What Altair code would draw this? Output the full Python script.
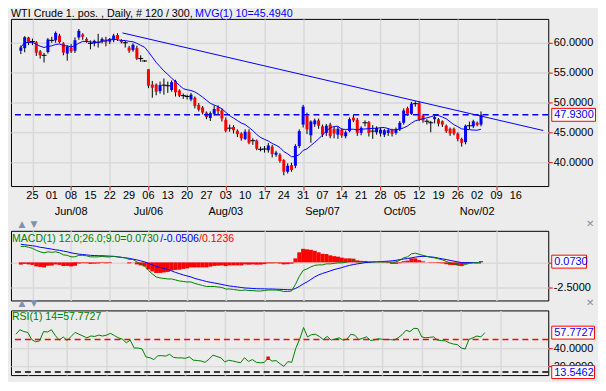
import altair as alt
import pandas as pd

# ---------------- data ----------------
opens = [58.67, 59.1, 60.88, 60.2, 60.1, 58.56, 57.9, 58.45, 60.4, 60.43,
         61.2, 59.9, 58.2, 59.2, 58.67, 60.9, 61.4, 60.65, 59.9, 59.9,
         60.1, 60.2, 60.55, 60.2, 60.43, 61.3, 60.43, 60.0, 59.2, 58.8,
         59.1, 57.35, 56.95, 55.57, 53.0, 53.0, 51.9, 52.9, 52.8, 52.1,
         53.6, 52.0, 51.15, 51.0, 50.5, 50.8, 49.6, 49.15, 48.3, 47.4,
         48.1, 49.2, 48.65, 47.1, 45.7, 45.9, 45.25, 44.8, 43.9, 45.1,
         43.6, 43.6, 42.15, 42.2, 42.0, 42.6, 41.25, 41.25, 40.35, 38.4,
         39.5, 39.4, 42.7, 46.3, 47.8, 44.5, 46.35, 47.0, 46.0, 44.9,
         46.3, 45.6, 44.6, 45.45, 44.35, 45.2, 47.45, 47.1, 44.9, 46.6,
         46.7, 45.2, 45.0, 44.8, 44.6, 44.9, 45.35, 44.9, 45.5, 46.6,
         49.05, 48.1, 49.8, 49.9, 47.8, 46.85, 46.6, 47.2, 47.2, 46.85,
         46.1, 45.6, 45.6, 44.8, 43.9, 43.35, 46.1, 46.0, 46.6, 46.3]
closes = [59.22, 60.93, 60.0, 60.2, 58.34, 57.9, 57.9, 60.55, 60.4, 61.65,
          60.1, 58.35, 59.34, 58.55, 60.43, 62.0, 61.0, 60.33, 59.9, 60.33,
          60.1, 60.65, 60.1, 60.65, 61.2, 60.65, 60.1, 60.0, 58.67, 59.67,
          57.35, 57.35, 56.95, 52.8, 52.47, 51.8, 52.9, 52.9, 52.8, 53.4,
          51.7, 51.15, 51.15, 51.0, 51.3, 49.4, 48.8, 48.3, 47.55, 48.2,
          48.9, 48.55, 47.3, 45.25, 45.7, 45.35, 44.7, 44.0, 45.1, 43.25,
          43.6, 42.25, 42.15, 42.2, 42.8, 41.35, 41.6, 40.2, 38.4, 39.4,
          38.7, 42.7, 45.2, 49.3, 45.5, 46.8, 47.0, 46.1, 44.6, 46.1,
          44.35, 44.8, 45.6, 44.45, 45.0, 47.2, 47.0, 44.9, 45.75, 46.6,
          44.9, 45.2, 45.75, 45.45, 45.35, 45.35, 44.75, 45.5, 46.6, 48.65,
          48.1, 49.8, 49.8, 47.2, 47.0, 46.85, 46.6, 47.55, 46.45, 46.3,
          45.2, 44.8, 44.8, 43.9, 43.25, 46.1, 46.1, 46.85, 46.25, 47.93]
highs = [59.55, 61.1, 61.0, 60.7, 60.3, 58.8, 58.3, 60.8, 61.0, 61.9,
         61.5, 60.1, 59.6, 59.8, 60.9, 62.3, 61.6, 60.9, 60.4, 60.5,
         61.5, 60.9, 61.0, 60.8, 61.5, 61.6, 60.6, 60.3, 59.5, 59.9,
         59.5, 57.9, 57.1, 55.6, 53.6, 53.2, 53.5, 54.0, 53.5, 53.7,
         53.8, 52.2, 51.5, 51.3, 51.6, 51.0, 49.9, 49.4, 48.5, 48.5,
         49.5, 49.5, 49.0, 47.5, 46.3, 46.2, 45.5, 45.0, 45.5, 45.5,
         44.0, 43.8, 42.6, 42.7, 43.2, 42.9, 41.9, 41.5, 40.5, 39.8,
         39.9, 43.0, 45.5, 49.6, 48.3, 47.0, 47.3, 47.3, 46.3, 46.4,
         46.6, 45.9, 45.9, 45.7, 45.3, 47.5, 47.9, 47.4, 46.0, 47.0,
         46.9, 46.2, 46.0, 45.8, 45.6, 45.7, 45.6, 45.8, 46.9, 49.0,
         49.3, 50.1, 50.2, 50.15, 48.0, 47.2, 46.9, 47.8, 47.4, 47.0,
         46.3, 45.8, 45.8, 45.0, 44.1, 46.3, 46.8, 47.1, 46.8, 48.5]
lows = [58.1, 58.4, 59.6, 59.6, 57.8, 57.35, 56.7, 58.2, 60.0, 60.0,
        59.9, 57.9, 57.0, 58.3, 58.3, 60.5, 60.5, 60.0, 58.9, 59.4,
        59.2, 59.9, 59.4, 59.8, 60.1, 60.3, 59.9, 59.2, 58.3, 58.5,
        57.1, 56.8, 56.8, 52.4, 50.8, 51.2, 51.5, 51.3, 51.6, 51.8,
        51.0, 50.9, 50.6, 50.5, 50.2, 49.0, 48.5, 48.0, 47.2, 46.9,
        47.8, 48.0, 46.8, 45.0, 45.1, 44.8, 44.2, 43.6, 43.7, 43.0,
        42.9, 42.0, 41.8, 41.6, 41.6, 40.8, 40.9, 39.9, 37.8, 38.1,
        38.4, 39.0, 42.4, 45.8, 44.7, 43.25, 45.9, 45.6, 44.2, 44.4,
        44.0, 44.0, 43.9, 44.1, 44.0, 45.0, 46.7, 44.4, 44.5, 46.0,
        44.3, 43.9, 44.6, 44.3, 44.2, 44.4, 44.3, 44.6, 45.2, 46.3,
        47.8, 47.9, 49.3, 46.9, 46.6, 46.3, 45.0, 46.5, 46.0, 45.9,
        44.9, 44.4, 44.5, 43.5, 42.6, 43.0, 45.5, 45.7, 46.0, 46.0]

macd_line = [1.58, 1.6, 1.5, 1.4, 1.2, 1.05, 0.95, 1.05, 1.0, 1.05,
             0.95, 0.75, 0.7, 0.55, 0.55, 0.7, 0.7, 0.65, 0.55, 0.55,
             0.55, 0.6, 0.55, 0.55, 0.6, 0.55, 0.5, 0.45, 0.3, 0.3,
             0.05, -0.15, -0.35, -0.8, -1.15, -1.45, -1.55, -1.6, -1.65, -1.65,
             -1.75, -1.85, -1.9, -1.95, -1.95, -2.1, -2.2, -2.3, -2.4, -2.4,
             -2.4, -2.45, -2.5, -2.65, -2.65, -2.7, -2.75, -2.8, -2.75, -2.8,
             -2.8, -2.85, -2.85, -2.8, -2.75, -2.75, -2.75, -2.8, -2.9, -2.9,
             -2.85, -2.2, -1.4, -0.8, -0.65, -0.45, -0.3, -0.25, -0.25, -0.15,
             -0.15, -0.1, -0.05, -0.05, 0.0, 0.1, 0.15, 0.05, 0.05, 0.1,
             0.05, 0.05, 0.05, 0.05, 0.05, 0.05, 0.0, 0.05, 0.2, 0.45,
             0.55, 0.85, 0.92, 0.8, 0.7, 0.6, 0.5, 0.45, 0.35, 0.25,
             0.1, -0.05, -0.15, -0.25, -0.35, -0.2, -0.1, -0.05, -0.05, 0.073]
signal_line = [1.8, 1.75, 1.7, 1.65, 1.6, 1.5, 1.45, 1.38, 1.32, 1.25,
               1.2, 1.12, 1.05, 0.95, 0.88, 0.82, 0.78, 0.74, 0.7, 0.68,
               0.66, 0.66, 0.64, 0.62, 0.6, 0.55, 0.5, 0.45, 0.4, 0.32,
               0.25, 0.15, 0.05, -0.1, -0.25, -0.4, -0.5, -0.6, -0.7, -0.85,
               -1.0, -1.12, -1.25, -1.35, -1.45, -1.6, -1.7, -1.8, -1.9, -1.98,
               -2.05, -2.12, -2.2, -2.28, -2.35, -2.4, -2.45, -2.5, -2.55, -2.57,
               -2.6, -2.62, -2.63, -2.63, -2.65, -2.65, -2.67, -2.68, -2.7, -2.72,
               -2.72, -2.6, -2.4, -2.15, -1.95, -1.7, -1.45, -1.25, -1.1, -0.98,
               -0.85, -0.72, -0.62, -0.52, -0.4, -0.3, -0.22, -0.15, -0.1, -0.02,
               0.0, 0.03, 0.05, 0.08, 0.1, 0.12, 0.15, 0.2, 0.28, 0.33,
               0.38, 0.45, 0.52, 0.58, 0.6, 0.58, 0.55, 0.5, 0.42, 0.35,
               0.28, 0.2, 0.12, 0.05, -0.02, -0.03, -0.02, -0.03, -0.05, -0.0506]
rsi_line = [56.0, 61.0, 59.0, 58.0, 50.0, 47.5, 48.5, 59.0, 58.5, 61.0,
            54.5, 49.4, 53.0, 49.0, 53.5, 58.0, 56.0, 54.0, 52.0, 54.0,
            53.5, 55.0, 54.0, 55.0, 57.0, 54.5, 52.0, 50.5, 46.4, 49.4,
            40.6, 40.5, 39.5, 30.5, 29.7, 27.6, 31.8, 32.0, 31.5, 33.5,
            30.0, 29.5, 29.5, 29.0, 30.6, 27.0, 26.5, 26.0, 24.5, 28.0,
            32.6, 31.0, 29.7, 25.0, 26.8, 26.0, 25.0, 24.0, 29.7, 25.5,
            27.6, 24.5, 24.0, 24.3, 29.1, 25.9, 26.5, 23.0, 20.0, 25.3,
            24.5, 40.0, 50.3, 63.5, 53.0, 55.5, 56.0, 53.5, 50.0, 53.5,
            49.5, 50.5, 52.0, 49.4, 50.5, 56.0, 55.0, 50.0, 51.5, 53.0,
            49.0, 49.6, 51.0, 50.3, 50.0, 50.0, 49.5, 52.0, 55.5, 60.4,
            59.0, 62.6, 62.3, 53.0, 52.0, 52.5, 53.0, 49.4, 49.0, 48.5,
            46.4, 45.0, 44.4, 40.6, 39.4, 50.3, 52.0, 54.0, 53.0, 57.77]
rsi_dot_bar = [64]
rsi_dot_val = [29.1]

day_labels = ["25", "01", "08", "15", "22", "29", "06", "13", "20", "27", "03", "10", "17",
              "24", "31", "07", "14", "21", "28", "05", "12", "19", "26", "02", "09", "16"]
month_labels = ["Jun/08", "Jul/06", "Aug/03", "Sep/07", "Oct/05", "Nov/02"]
month_bars = [13, 33, 53, 78, 98, 118]
first_tick_bar = 3
bars_per_week = 5

trend_bar = [26.3, 135.1]
trend_price = [61.65, 45.3]

price_ticks = [40, 45, 50, 55, 60]
macd_ticks = [-2.5, 0]
rsi_ticks = [20, 40]

last_close = 47.93
mvg_value = "45.4940"
macd_value, signal_value, hist_value = 0.0730, -0.0506, 0.1236
rsi_value = 57.7727
rsi_low_value = 13.5462
rsi_mid = 50

# ---------------- styling ----------------
FONT = "Liberation Sans"
BLUE = "#0000FF"
RED = "#FF0000"
GREEN = "#008000"
GRID = "#D9D9D9"
BG = "#ECECEC"
GLYPH = "#8090B0"
W = 540

n = len(closes)
bars = list(range(n))
df = pd.DataFrame({"i": bars, "o": opens, "h": highs, "l": lows, "c": closes})
df["col"] = [BLUE if c > o else RED for o, c in zip(opens, closes)]

tick_vals = [first_tick_bar + bars_per_week * k for k in range(len(day_labels))]

xs = alt.Scale(domain=[-1.26, 135.1], nice=False, zero=False)
x_axis_main = alt.Axis(values=tick_vals, labels=False, grid=True, gridColor=GRID,
                       gridWidth=1.5, domain=False, tickColor=RED, tickSize=4, tickWidth=1)
x_axis_sub = alt.Axis(values=tick_vals, labels=False, ticks=False, domain=False, grid=True,
                      gridColor=GRID, gridWidth=1.5)


def yaxis(vals, expr=None):
    kw = dict(orient="right", values=vals, grid=True, gridColor=GRID, gridWidth=1.5,
              domain=False, tickColor=RED, tickSize=4, tickWidth=1, labelFont=FONT,
              labelFontSize=11, labelColor="black", labelPadding=1)
    if expr:
        kw["labelExpr"] = expr
    else:
        kw["format"] = ".4f"
    return alt.Axis(**kw)


def text_layer(txt, x, y, color, size=11, font=FONT, align="left", baseline="alphabetic"):
    return alt.Chart(pd.DataFrame({"t": [txt]})).mark_text(
        align=align, baseline=baseline, color=color, font=font, fontSize=size
    ).encode(x=alt.value(x), y=alt.value(y), text="t:N")


def box_path(w):
    return "M0,-6.5H%dV6.5H0Z" % w


def value_box(val, label, w):
    d = pd.DataFrame({"v": [val], "t": [label]})
    box = alt.Chart(d).mark_point(shape=box_path(w), size=4, filled=True, fill="white",
                                  stroke=RED, strokeWidth=1, opacity=1).encode(
        x=alt.value(543.5), y="v:Q")
    txt = alt.Chart(d).mark_text(align="left", baseline="middle", color=BLUE, font=FONT,
                                 fontSize=11, dy=0.5).encode(x=alt.value(546), y="v:Q", text="t:N")
    return [box, txt]


def separator(y):
    return [text_layer("▲", 11, y, GLYPH, 9, "DejaVu Sans", "center", "middle"),
            text_layer("▼", 23, y, GLYPH, 9, "DejaVu Sans", "center", "middle"),
            text_layer("✕", 582, y, GLYPH, 10, "DejaVu Sans", "center", "middle")]


# ---------------- main price panel ----------------
ys_main = alt.Scale(domain=[36, 64], nice=False, zero=False)
wicks = alt.Chart(df).mark_rule(color="black", strokeWidth=1).encode(
    x=alt.X("i:Q", scale=xs, axis=x_axis_main, title=None),
    y=alt.Y("l:Q", scale=ys_main, axis=yaxis(price_ticks), title=None),
    y2="h:Q")
bodies = alt.Chart(df).transform_filter("datum.o != datum.c").mark_bar(size=3).encode(
    x="i:Q", y="o:Q", y2="c:Q", color=alt.Color("col:N", scale=None))
dojis = alt.Chart(df).transform_filter("datum.o == datum.c").mark_point(
    shape="stroke", size=25, color="black", strokeWidth=1, opacity=1, filled=False).encode(
    x="i:Q", y="c:Q")
ma = alt.Chart(df).transform_window(ma="mean(c)", frame=[-9, 0], sort=[alt.SortField("i")]).mark_line(
    color=BLUE, strokeWidth=1).encode(x="i:Q", y="ma:Q")
trend = alt.Chart(pd.DataFrame({"i": trend_bar, "p": trend_price})).mark_line(
    color=BLUE, strokeWidth=1).encode(x="i:Q", y="p:Q")
last_rule = alt.Chart(pd.DataFrame({"v": [last_close]})).mark_rule(
    color=BLUE, strokeDash=[6, 4], strokeWidth=1.5).encode(y="v:Q")
days = alt.Chart(pd.DataFrame({"i": tick_vals, "t": day_labels})).mark_text(
    align="center", baseline="middle", color="black", font=FONT, fontSize=11).encode(
    x="i:Q", y=alt.value(178.5), text="t:N")
months = alt.Chart(pd.DataFrame({"i": month_bars, "t": month_labels})).mark_text(
    align="center", baseline="middle", color="black", font=FONT, fontSize=11).encode(
    x="i:Q", y=alt.value(194), text="t:N")

title_black = "WTI Crude 1. pos. , Daily, # 120 / 300,"
title_blue = "MVG(1) 10=" + mvg_value
main = alt.layer(
    wicks, bodies, dojis, ma, trend, last_rule, days, months,
    *value_box(last_close, "%.4f" % last_close, 44),
    text_layer(title_black, 0, -2, "black", 10.8),
    text_layer(title_blue, 185, -2, BLUE, 10.8),
    *separator(206),
).properties(width=W, height=168)

# ---------------- MACD panel ----------------
df_m = pd.DataFrame({"i": bars, "m": macd_line, "s": signal_line})
ys_macd = alt.Scale(domain=[-3.79, 3.14], nice=False, zero=False)
macd_expr = "datum.value == 0 ? '' : replace(format(datum.value, '.4f'), '\u2212', '-')"
hist = alt.Chart(df_m).transform_calculate(hh="datum.m - datum.s").mark_bar(size=4, color=RED).encode(
    x=alt.X("i:Q", scale=xs, axis=x_axis_sub, title=None),
    y=alt.Y("hh:Q", scale=ys_macd, axis=yaxis(macd_ticks, macd_expr), title=None),
    y2=alt.datum(0))
sig = alt.Chart(df_m).mark_line(color=BLUE, strokeWidth=1).encode(x="i:Q", y="s:Q")
mac = alt.Chart(df_m).mark_line(color=GREEN, strokeWidth=1).encode(x="i:Q", y="m:Q")
t_m1 = "MACD(1) 12.0;26.0;9.0=%.4f" % macd_value
t_m2 = "/%.4f" % signal_value
t_m3 = "/%.4f" % hist_value
macd_panel = alt.layer(
    hist, sig, mac,
    *value_box(macd_value, "%.4f" % macd_value, 35),
    text_layer(t_m1, 1, 11, GREEN, 10.6),
    text_layer(t_m2, 150, 11, BLUE, 10.6),
    text_layer(t_m3, 189, 11, RED, 10.6),
    *separator(73),
).properties(width=W, height=70)

# ---------------- RSI panel ----------------
df_r = pd.DataFrame({"i": bars, "r": rsi_line})
ys_rsi = alt.Scale(domain=[10.2, 82.7], nice=False, zero=False)
rsi_l = alt.Chart(df_r).mark_line(color=GREEN, strokeWidth=1).encode(
    x=alt.X("i:Q", scale=xs, axis=x_axis_sub, title=None),
    y=alt.Y("r:Q", scale=ys_rsi, axis=yaxis(rsi_ticks), title=None))
mid_rule = alt.Chart(pd.DataFrame({"r": [rsi_mid]})).mark_rule(
    color=RED, strokeDash=[6, 4], strokeWidth=1.5).encode(y="r:Q")
low_rule = alt.Chart(pd.DataFrame({"r": [rsi_low_value]})).mark_rule(
    color="black", strokeDash=[6, 4], strokeWidth=1.5).encode(y="r:Q")
dot = alt.Chart(pd.DataFrame({"i": rsi_dot_bar, "r": rsi_dot_val})).mark_point(
    shape="square", size=12, filled=True, color=RED, opacity=1).encode(x="i:Q", y="r:Q")
rsi_panel = alt.layer(
    mid_rule, low_rule, rsi_l, dot,
    *value_box(rsi_value, "%.4f" % rsi_value, 43),
    *value_box(rsi_low_value, "%.4f" % rsi_low_value, 43),
    text_layer("RSI(1) 14=%.4f" % rsi_value, 1, 10, GREEN, 10.6),
).properties(width=W, height=65)

chart = alt.vconcat(main, macd_panel, rsi_panel, spacing=0).resolve_scale(
    y="independent").properties(
    background=BG, padding={"left": 1, "top": -2, "right": 0, "bottom": 0}
).configure_view(stroke="black", strokeWidth=1)

chart.save("out.html", embed_options={"renderer": "svg", "actions": False})
